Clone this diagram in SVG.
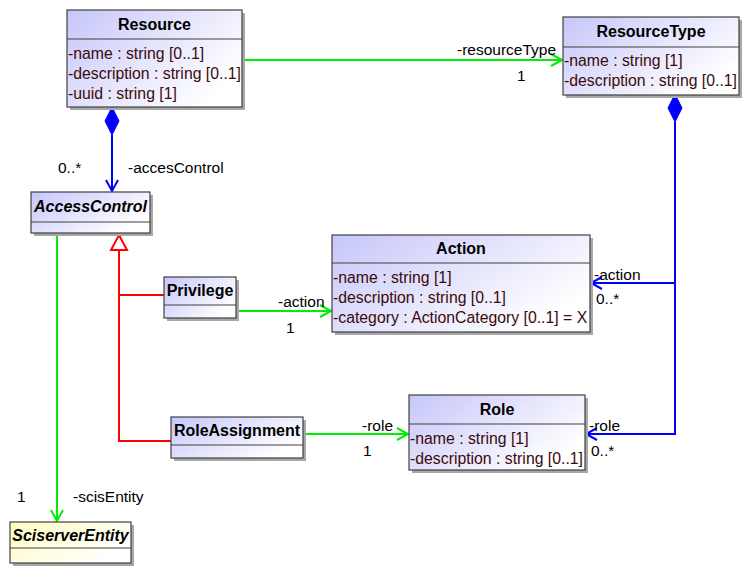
<svg xmlns="http://www.w3.org/2000/svg" width="749" height="573" viewBox="0 0 749 573">
  <defs>
    <linearGradient id="blueFill" x1="0" y1="0" x2="1" y2="0.6">
      <stop offset="0" stop-color="#c6c6fa"/>
      <stop offset="1" stop-color="#ffffff"/>
    </linearGradient>
    <linearGradient id="yellowFill" x1="0" y1="0" x2="1" y2="0.6">
      <stop offset="0" stop-color="#fffcc0"/>
      <stop offset="1" stop-color="#ffffff"/>
    </linearGradient>
    <marker id="openGreen" markerUnits="userSpaceOnUse" markerWidth="16" markerHeight="16" refX="12" refY="7" orient="auto">
      <path d="M1,1 L12,7 L1,13" fill="none" stroke="#00ee00" stroke-width="2"/>
    </marker>
    <marker id="openBlue" markerUnits="userSpaceOnUse" markerWidth="16" markerHeight="16" refX="12" refY="7" orient="auto">
      <path d="M1,1 L12,7 L1,13" fill="none" stroke="#0000ff" stroke-width="2"/>
    </marker>
  </defs>
  <style>
    .shadow { fill: #a8a8a8; }
    .box { fill: url(#blueFill); stroke: #404040; stroke-width: 1.2; }
    .ybox { fill: url(#yellowFill); stroke: #404040; stroke-width: 1.2; }
    .sep { stroke: #404040; stroke-width: 1.2; }
    .name { font-family: "Liberation Sans", Arial, sans-serif; font-size: 16px; font-weight: bold; fill: #000; text-anchor: middle; }
    .abs { font-style: italic; }
    .attr { font-family: "Liberation Sans", Arial, sans-serif; font-size: 15.8px; fill: #3c0a0a; }
    .lbl { font-family: "Liberation Sans", Arial, sans-serif; font-size: 15.5px; fill: #000; }
    .green { fill: none; stroke: #00ee00; stroke-width: 2; }
    .blue { fill: none; stroke: #0000ff; stroke-width: 2; }
    .red { fill: none; stroke: #ff0000; stroke-width: 2; }
  </style>
  <rect width="749" height="573" fill="#ffffff"/>

  <!-- associations, compositions and generalizations -->
  <g id="connectors">
    <!-- Resource -> ResourceType -->
    <line class="green" x1="242" y1="60" x2="562" y2="60" marker-end="url(#openGreen)"/>
    <!-- Resource <>- AccessControl -->
    <path d="M112,107 L119,121 L112,135 L105,121 Z" fill="#0000ff" stroke="#0000ff" stroke-width="1"/>
    <line class="blue" x1="112" y1="135" x2="112" y2="191" marker-end="url(#openBlue)"/>
    <!-- ResourceType <>- Action / Role -->
    <path d="M675,94 L682,108 L675,122 L668,108 Z" fill="#0000ff" stroke="#0000ff" stroke-width="1"/>
    <polyline class="blue" points="675,122 675,434 586,434" marker-end="url(#openBlue)"/>
    <polyline class="blue" points="675,283 591,283" marker-end="url(#openBlue)"/>
    <!-- AccessControl -> SciserverEntity -->
    <line class="green" x1="57" y1="233" x2="57" y2="521" marker-end="url(#openGreen)"/>
    <!-- Privilege -> Action -->
    <line class="green" x1="236" y1="311" x2="331" y2="311" marker-end="url(#openGreen)"/>
    <!-- RoleAssignment -> Role -->
    <line class="green" x1="303" y1="434" x2="408" y2="434" marker-end="url(#openGreen)"/>
    <!-- generalization to AccessControl -->
    <polyline class="red" points="119,250 119,441 171,441"/>
    <line class="red" x1="119" y1="295" x2="164" y2="295"/>
    <path d="M119,235 L127,250 L111,250 Z" fill="#ffffff" stroke="#ff0000" stroke-width="2"/>

    <text class="lbl" x="457" y="55">-resourceType</text>
    <text class="lbl" x="517" y="81">1</text>
    <text class="lbl" x="58" y="173">0..*</text>
    <text class="lbl" x="128" y="173">-accesControl</text>
    <text class="lbl" x="594" y="280">-action</text>
    <text class="lbl" x="596" y="304">0..*</text>
    <text class="lbl" x="589" y="431">-role</text>
    <text class="lbl" x="591" y="456">0..*</text>
    <text class="lbl" x="17" y="502">1</text>
    <text class="lbl" x="73" y="502">-scisEntity</text>
    <text class="lbl" x="278" y="307">-action</text>
    <text class="lbl" x="286" y="333">1</text>
    <text class="lbl" x="362" y="431">-role</text>
    <text class="lbl" x="363" y="456">1</text>
  </g>

  <g id="Resource">
    <rect class="shadow" x="70" y="13" width="175" height="97"/>
    <rect class="box" x="67" y="10" width="175" height="97"/>
    <line class="sep" x1="67" y1="39" x2="242" y2="39"/>
    <text class="name" x="154.5" y="30">Resource</text>
    <text class="attr" x="68" y="59">-name : string [0..1]</text>
    <text class="attr" x="68" y="79">-description : string [0..1]</text>
    <text class="attr" x="68" y="99">-uuid : string [1]</text>
  </g>

  <g id="ResourceType">
    <rect class="shadow" x="566" y="20" width="176" height="78"/>
    <rect class="box" x="563" y="17" width="176" height="78"/>
    <line class="sep" x1="563" y1="47" x2="739" y2="47"/>
    <text class="name" x="651" y="37">ResourceType</text>
    <text class="attr" x="564" y="66">-name : string [1]</text>
    <text class="attr" x="564" y="86">-description : string [0..1]</text>
  </g>

  <g id="AccessControl">
    <rect class="shadow" x="34" y="195" width="119" height="41"/>
    <rect class="box" x="31" y="192" width="119" height="41"/>
    <line class="sep" x1="31" y1="222" x2="150" y2="222"/>
    <text class="name abs" x="90.5" y="212">AccessControl</text>
  </g>

  <g id="Action">
    <rect class="shadow" x="335" y="238" width="258" height="97"/>
    <rect class="box" x="332" y="235" width="258" height="97"/>
    <line class="sep" x1="332" y1="263" x2="590" y2="263"/>
    <text class="name" x="461" y="254">Action</text>
    <text class="attr" x="333" y="283">-name : string [1]</text>
    <text class="attr" x="333" y="303">-description : string [0..1]</text>
    <text class="attr" x="333" y="323">-category : ActionCategory [0..1] = X</text>
  </g>

  <g id="Privilege">
    <rect class="shadow" x="167" y="280" width="72" height="41"/>
    <rect class="box" x="164" y="277" width="72" height="41"/>
    <line class="sep" x1="164" y1="305" x2="236" y2="305"/>
    <text class="name" x="200" y="296">Privilege</text>
  </g>

  <g id="RoleAssignment">
    <rect class="shadow" x="174" y="420" width="132" height="41"/>
    <rect class="box" x="171" y="417" width="132" height="41"/>
    <line class="sep" x1="171" y1="445" x2="303" y2="445"/>
    <text class="name" x="237" y="436">RoleAssignment</text>
  </g>

  <g id="Role">
    <rect class="shadow" x="412" y="398" width="176" height="75"/>
    <rect class="box" x="409" y="395" width="176" height="75"/>
    <line class="sep" x1="409" y1="424" x2="585" y2="424"/>
    <text class="name" x="497" y="415">Role</text>
    <text class="attr" x="410" y="444">-name : string [1]</text>
    <text class="attr" x="410" y="464">-description : string [0..1]</text>
  </g>

  <g id="SciserverEntity">
    <rect class="shadow" x="13" y="525" width="121" height="41"/>
    <rect class="ybox" x="10" y="522" width="121" height="41"/>
    <line class="sep" x1="10" y1="548" x2="131" y2="548"/>
    <text class="name abs" x="70.5" y="541">SciserverEntity</text>
  </g>
</svg>
